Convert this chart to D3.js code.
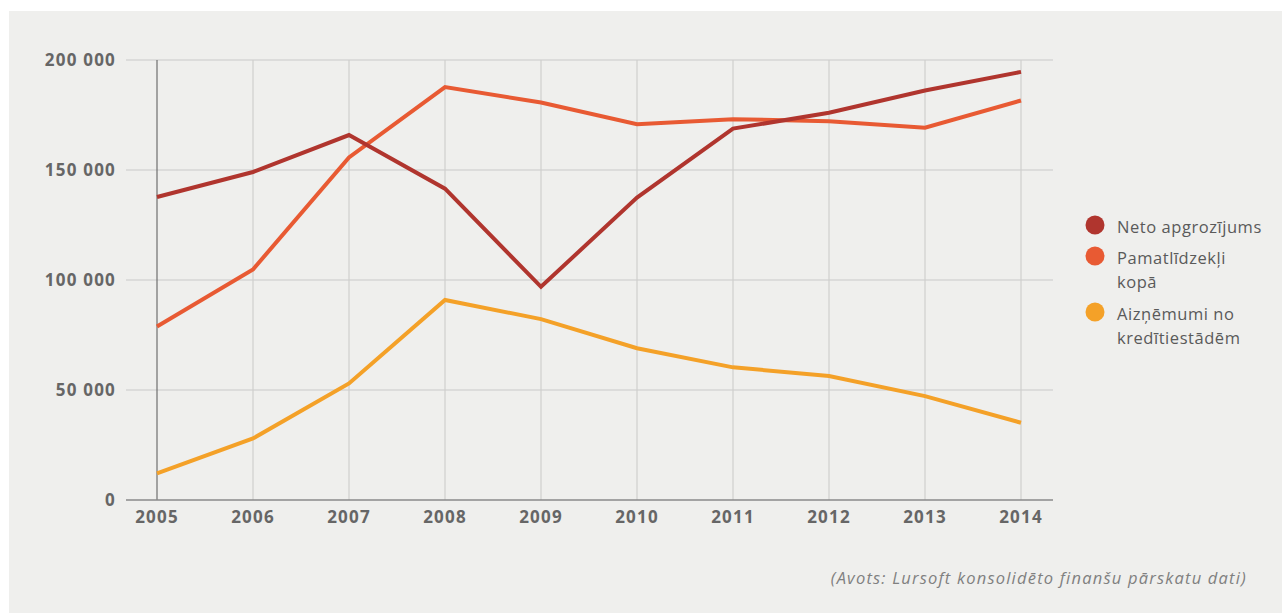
<!DOCTYPE html>
<html>
<head>
<meta charset="utf-8">
<script src="https://cdn.jsdelivr.net/npm/d3@7"></script>
<style>
  html, body { margin: 0; padding: 0; background: #fff; }
  svg { display: block; }
</style>
</head>
<body>
<svg id="chart" width="1282" height="613"></svg>
<script>
var years = [2005, 2006, 2007, 2008, 2009, 2010, 2011, 2012, 2013, 2014];
var neto = [137700, 149100, 165900, 141500, 96900, 137500, 168800, 176000, 186100, 194600];
var pamat = [78900, 104800, 155700, 187700, 180700, 170800, 173100, 172200, 169200, 181600];
var aizn = [12100, 28000, 53000, 90900, 82200, 69000, 60300, 56400, 47200, 35100];
var yTicks = [0, 50000, 100000, 150000, 200000];
var seriesNames = ["Neto apgrozījums", ["Pamatlīdzekļi", "kopā"], ["Aizņēmumi no", "kredītiestādēm"]];
var colors = ["#b0352e", "#e85a33", "#f4a128"];

var svg = d3.select('#chart');
var font = '"Open Sans", sans-serif';

svg.append('rect')
    .attr('x', 9).attr('y', 11)
    .attr('width', 1273).attr('height', 602)
    .attr('fill', '#efefed');

var x = d3.scalePoint().domain(years).range([157, 1021]);
var y = d3.scaleLinear().domain([0, 200000]).range([500, 60]);

var fmt = function(d) { return d3.format(',')(d).replace(/,/g, ' '); };

// horizontal grid
svg.append('g').selectAll('line')
    .data(yTicks.filter(function(d) { return d > 0; }))
    .enter().append('line')
    .attr('x1', 126).attr('x2', 1053)
    .attr('y1', function(d) { return y(d); })
    .attr('y2', function(d) { return y(d); })
    .attr('stroke', '#d6d6d4')
    .attr('stroke-width', 1.5);

// vertical grid
svg.append('g').selectAll('line')
    .data(years.slice(1))
    .enter().append('line')
    .attr('x1', function(d) { return x(d); })
    .attr('x2', function(d) { return x(d); })
    .attr('y1', y(200000)).attr('y2', y(0))
    .attr('stroke', '#cfcfcd')
    .attr('stroke-width', 1.2);

// y axis line at first year
svg.append('line')
    .attr('x1', x(2005)).attr('x2', x(2005))
    .attr('y1', y(200000)).attr('y2', y(0))
    .attr('stroke', '#6e6e6e')
    .attr('stroke-width', 1.2);

// x axis baseline
svg.append('line')
    .attr('x1', 126).attr('x2', 1053)
    .attr('y1', y(0)).attr('y2', y(0))
    .attr('stroke', '#8a8a8a')
    .attr('stroke-width', 1.5);

// y tick labels
svg.append('g').selectAll('text')
    .data(yTicks)
    .enter().append('text')
    .attr('x', 116)
    .attr('y', function(d) { return y(d); })
    .attr('dy', '0.36em')
    .attr('text-anchor', 'end')
    .attr('font-family', font)
    .attr('font-weight', 700)
    .attr('font-size', '17px')
    .attr('letter-spacing', '1.2px')
    .attr('fill', '#666')
    .text(fmt);

// x tick labels
svg.append('g').selectAll('text')
    .data(years)
    .enter().append('text')
    .attr('x', function(d) { return x(d); })
    .attr('y', 523)
    .attr('text-anchor', 'middle')
    .attr('font-family', font)
    .attr('font-weight', 700)
    .attr('font-size', '17px')
    .attr('letter-spacing', '1.2px')
    .attr('fill', '#666')
    .text(function(d) { return d; });

var line = d3.line()
    .x(function(d, i) { return x(years[i]); })
    .y(function(d) { return y(d); });

[aizn, pamat, neto].forEach(function(s, k) {
    svg.append('path')
        .attr('d', line(s))
        .attr('fill', 'none')
        .attr('stroke', colors[2 - k])
        .attr('stroke-width', 4)
        .attr('stroke-linejoin', 'miter');
});

// legend
var legendY = [225, 256, 312];
seriesNames.forEach(function(name, i) {
    svg.append('circle')
        .attr('cx', 1095).attr('cy', legendY[i])
        .attr('r', 9.5)
        .attr('fill', colors[i]);
    var lines = Array.isArray(name) ? name : [name];
    var t = svg.append('text')
        .attr('x', 1117)
        .attr('y', legendY[i] + 8)
        .attr('font-family', font)
        .attr('font-size', '16.5px')
        .attr('letter-spacing', '0.55px')
        .attr('fill', '#5a5a5a');
    lines.forEach(function(l, j) {
        t.append('tspan')
            .attr('x', 1117)
            .attr('dy', j === 0 ? 0 : 24)
            .text(l);
    });
});

// source
svg.append('text')
    .attr('x', 1247).attr('y', 584)
    .attr('text-anchor', 'end')
    .attr('font-family', font)
    .attr('font-style', 'italic')
    .attr('font-size', '16.5px')
    .attr('letter-spacing', '1.2px')
    .attr('fill', '#808080')
    .text('(Avots: Lursoft konsolidēto finanšu pārskatu dati)');
</script>
</body>
</html>
